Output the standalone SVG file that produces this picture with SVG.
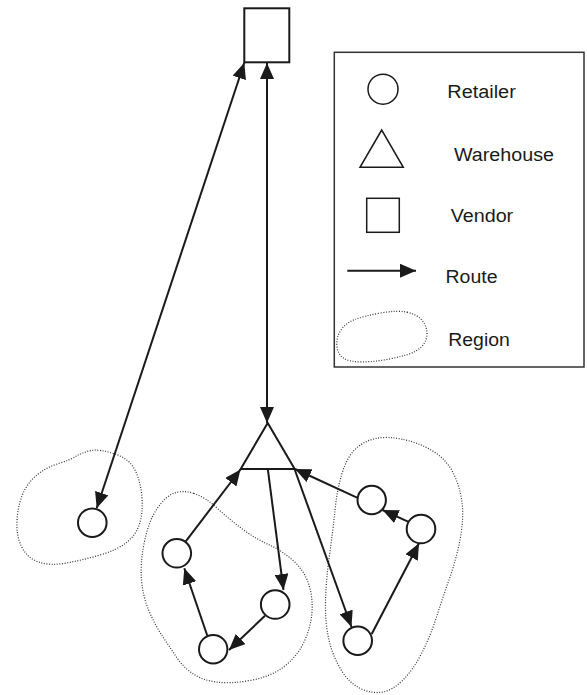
<svg xmlns="http://www.w3.org/2000/svg" width="587" height="695" viewBox="0 0 587 695">
<defs>
<marker id="ah" viewBox="0 0 16 14" refX="16" refY="7" markerWidth="16" markerHeight="14" markerUnits="userSpaceOnUse" orient="auto-start-reverse">
<path d="M0,0 L16,7 L0,14 Z" fill="#1a1a1a"/>
</marker>
<style>
.node{fill:#fff;stroke:#1a1a1a;stroke-width:2}
.lg{fill:#fff;stroke:#1a1a1a;stroke-width:1.5}
.route{stroke:#1a1a1a;stroke-width:2;fill:none;marker-end:url(#ah)}
.both{marker-start:url(#ah)}
.region{fill:none;stroke:#333;stroke-width:1.2;stroke-dasharray:1 1.6}
.lbl{font-family:"Liberation Sans",Arial,sans-serif;font-size:18px;fill:#1a1a1a}
</style>
</defs>
<rect width="587" height="695" fill="#fff"/>

<g id="regions">
<path class="region" d="M115,454 Q130,459 135.5,471 Q141,483 142,498 Q143,513 139.5,524 Q136,535 126.5,542.5 Q117,550 100,555 Q83,560 66.5,563 Q50,566 38.5,562 Q27,558 21.5,546.5 Q16,535 17,520 Q18,505 23,493.5 Q28,482 37.5,474.5 Q47,467 58.5,463.5 Q70,460 76.5,456 Q83,452 91.5,450.5 Q100,449 115,454 Z"/>
<path class="region" d="M194,493.5 Q205,497 217.5,508.5 Q230,520 243,529.5 Q256,539 268.5,544.5 Q281,550 292.5,560 Q304,570 308.5,583.5 Q313,597 312,612 Q311,627 304,642 Q297,657 283.5,667 Q270,677 250,680.5 Q230,684 216,682 Q202,680 192.5,673.5 Q183,667 176,656.5 Q169,646 162,635.5 Q155,625 149,611 Q143,597 141.5,580 Q140,563 144.5,541.5 Q149,520 157.5,508 Q166,496 174.5,493 Q183,490 194,493.5 Z"/>
<path class="region" d="M403.5,439.5 Q420,443 433.5,451.5 Q447,460 453.5,473.5 Q460,487 462,502 Q464,517 460.5,537 Q457,557 450,577 Q443,597 436.5,617 Q430,637 421.5,653.5 Q413,670 403,680 Q393,690 383,692 Q373,694 361.5,689 Q350,684 341.5,670.5 Q333,657 329,640 Q325,623 325.5,601.5 Q326,580 329.5,555 Q333,530 335,510 Q337,490 342,473.5 Q347,457 355.5,449 Q364,441 375.5,438.5 Q387,436 403.5,439.5 Z"/>
</g>

<g id="connectors">
<line class="route both" x1="244.3" y1="62.7" x2="96.7" y2="508.3"/>
<line class="route both" x1="267" y1="63" x2="267" y2="423"/>
<line class="route" x1="185.2" y1="542.1" x2="240.5" y2="469.5"/>
<line class="route" x1="267.8" y1="469" x2="283.5" y2="590"/>
<line class="route" x1="294.5" y1="469" x2="351.5" y2="627"/>
<line class="route" x1="357" y1="497.7" x2="295" y2="469"/>
<line class="route" x1="408" y1="521.7" x2="382.5" y2="510"/>
<line class="route" x1="371.7" y1="634" x2="419" y2="543.3"/>
<line class="route" x1="207.3" y1="635.7" x2="184.3" y2="568.3"/>
<line class="route" x1="265" y1="615.7" x2="229" y2="650"/>
</g>

<g id="vendor"><rect class="node" x="244.3" y="8.3" width="45" height="54"/></g>
<g id="warehouse"><polygon class="node" points="267.7,423 240.7,469 294.7,469"/></g>
<g id="retailer-left"><circle class="node" cx="92.3" cy="522.7" r="14.3"/></g>
<g id="retailer-m1"><circle class="node" cx="176.8" cy="553.3" r="14.3"/></g>
<g id="retailer-m2"><circle class="node" cx="213.2" cy="649.2" r="14.2"/></g>
<g id="retailer-m3"><circle class="node" cx="275.2" cy="604.5" r="14.3"/></g>
<g id="retailer-r1"><circle class="node" cx="371.7" cy="500" r="14.2"/></g>
<g id="retailer-r2"><circle class="node" cx="421" cy="529" r="14.3"/></g>
<g id="retailer-r3"><circle class="node" cx="357.7" cy="640.7" r="14.3"/></g>

<g id="legend">
<rect x="334.3" y="52.3" width="249.7" height="314.7" fill="#fff" stroke="#333" stroke-width="1.5"/>
<circle class="lg" cx="383" cy="89.2" r="15"/>
<text class="lbl" x="447.3" y="97.5" textLength="68.5" lengthAdjust="spacingAndGlyphs">Retailer</text>
<polygon class="lg" points="381.7,130 360,167.3 403.3,167.3"/>
<text class="lbl" x="454" y="161" textLength="100" lengthAdjust="spacingAndGlyphs">Warehouse</text>
<rect class="lg" x="366.7" y="198.3" width="32.6" height="34"/>
<text class="lbl" x="450.7" y="221.7" textLength="62.5" lengthAdjust="spacingAndGlyphs">Vendor</text>
<line class="route" x1="347.3" y1="270.7" x2="416" y2="270.7"/>
<text class="lbl" x="445.5" y="282.7" textLength="52" lengthAdjust="spacingAndGlyphs">Route</text>
<path class="region" d="M407,312.2 Q417,314.3 422,320.3 Q427,326.2 427,333.5 Q427,340.7 422,346.2 Q417,351.7 407,354.7 Q397,357.7 385,359.8 Q373,361.9 361.5,361.9 Q350,361.9 344,358.5 Q338,355.1 337,346.2 Q336,337.3 341,330 Q346,322.8 355,319.4 Q364,316 380.5,313 Q397,310 407,312.2 Z"/>
<text class="lbl" x="448.3" y="346" textLength="61.5" lengthAdjust="spacingAndGlyphs">Region</text>
</g>
</svg>
